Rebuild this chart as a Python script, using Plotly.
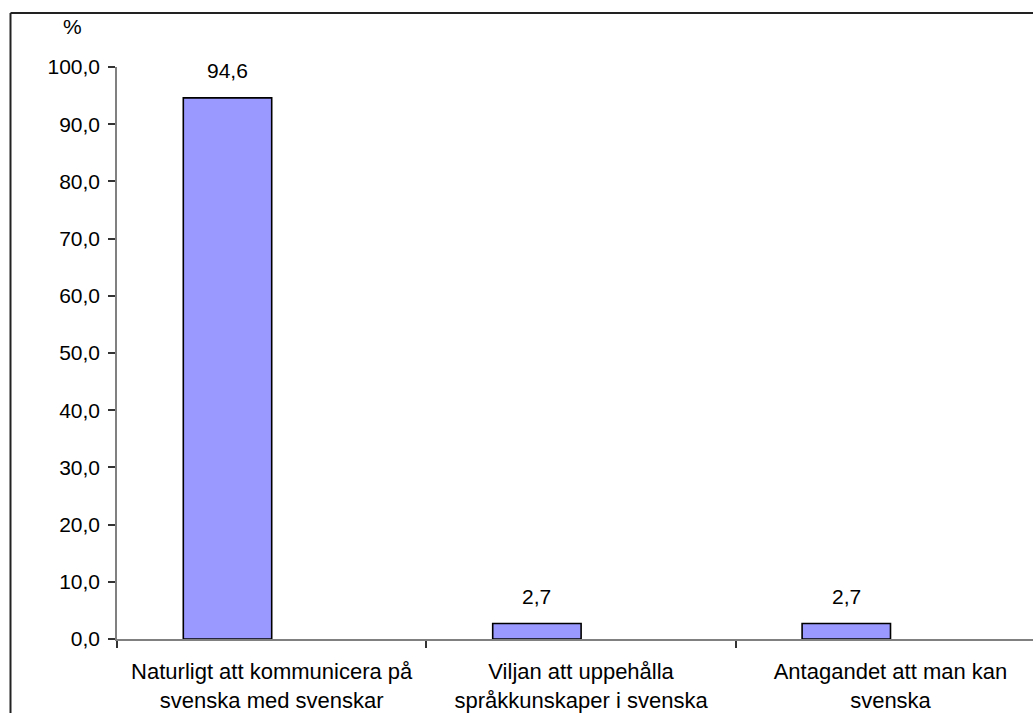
import plotly.graph_objects as go

# Survey answers (share of respondents, %)
categories = [
    "Naturligt att kommunicera på<br>svenska med svenskar",
    "Viljan att uppehålla<br>språkkunskaper i svenska",
    "Antagandet att man kan<br>svenska",
]
values = [94.6, 2.7, 2.7]
y_ticks = [0, 10, 20, 30, 40, 50, 60, 70, 80, 90, 100]

W, H = 1033, 713
L, R, T, B = 117, 0, 67, 74
FONT = dict(family="Liberation Sans, Arial, sans-serif", size=21, color="black")
CAT_FONT = dict(family="Liberation Sans, Arial, sans-serif", size=22, color="black")

# Bars sit in the left half of each category slot (second series slot empty)
bar_w = 1 / 3.5
bar_off = -bar_w

fig = go.Figure()
fig.add_trace(go.Bar(
    x=categories,
    y=values,
    width=bar_w,
    offset=bar_off,
    marker=dict(color="#9999FF", line=dict(color="black", width=1.6)),
    hoverinfo="skip",
))

# Value labels above the bars
annotations = []
for i, v in enumerate(values):
    annotations.append(dict(
        x=i + bar_off + bar_w / 2, y=v, xref="x", yref="y",
        text=f"{v:.1f}".replace(".", ","),
        showarrow=False, yanchor="bottom", yshift=14, font=FONT,
    ))

# Unit label above the value axis
pw = W - L - R
ph = H - T - B
annotations.append(dict(
    x=(72 - L) / pw, y=(H - B - 27) / ph, xref="paper", yref="paper",
    text="%", showarrow=False, xanchor="center", yanchor="middle", font=FONT,
))

# Chart-area frame (left and top edges)
def px_x(p):
    return (p - L) / pw

def px_y(p):
    return (H - B - p) / ph

shapes = [
    dict(type="line", xref="paper", yref="paper",
         x0=px_x(10.5), y0=px_y(H + 5), x1=px_x(10.5), y1=px_y(13),
         line=dict(color="#222222", width=2)),
    dict(type="line", xref="paper", yref="paper",
         x0=px_x(10.5), y0=px_y(13), x1=px_x(W + 5), y1=px_y(13),
         line=dict(color="#222222", width=2)),
]

cat_w_px = 309.4
fig.update_layout(
    width=W, height=H,
    margin=dict(l=L, r=R, t=T, b=B, pad=0),
    paper_bgcolor="white", plot_bgcolor="white",
    separators=",.",
    showlegend=False,
    font=FONT,
    annotations=annotations,
    shapes=shapes,
    xaxis=dict(
        type="category",
        range=[-0.5, -0.5 + pw / cat_w_px],
        showline=True, linecolor="#808080", linewidth=1.5,
        ticks="outside", tickson="boundaries", ticklen=7,
        tickcolor="#333333", tickwidth=1.5,
        showgrid=False, zeroline=False,
        tickfont=CAT_FONT,
        ticklabelstandoff=12,
    ),
    yaxis=dict(
        range=[0, 100],
        tickvals=y_ticks,
        tickformat=".1f",
        showline=True, linecolor="#808080", linewidth=1.5,
        ticks="outside", ticklen=7, tickcolor="#333333", tickwidth=1.5,
        showgrid=False, zeroline=False,
        tickfont=FONT,
        ticklabelstandoff=4,
    ),
)

fig.write_html("out.html")
